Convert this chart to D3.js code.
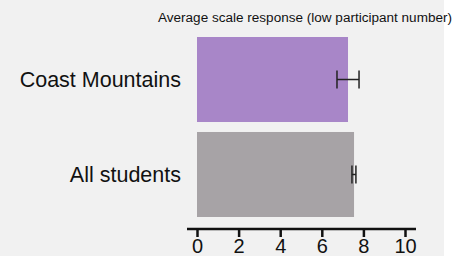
<html>
  <head>
    <style>
      body { margin: 0; background: #fff; }
      text { font-family: "Liberation Sans", Arial, sans-serif; fill: #111; }
    </style>
  </head>
  <body>
    <script src="https://d3js.org/d3.v7.min.js"></script>
    <script>
    // data
    var categories = ["Coast Mountains", "All students"];
    var means = [7.26, 7.55];
    var errLow = [6.73, 7.45];
    var errHigh = [7.79, 7.64];
    var barColors = ["#a886c8", "#a7a3a6"];
    var tickValues = [0, 2, 4, 6, 8, 10];
    var title = "Average scale response (low participant number)";

    var width = 456, height = 256;

    var svg = d3.select("body").append("svg")
        .attr("width", width)
        .attr("height", height);

    // light panel
    svg.append("rect").attr("x", 0).attr("y", 0)
        .attr("width", 444).attr("height", height).attr("fill", "#f1f1f1");

    var x = d3.scaleLinear().domain([0, 10]).range([197, 405]);
    var y = d3.scaleBand().domain(categories).range([37, 217]).paddingInner(0.105).paddingOuter(0);

    svg.append("text")
        .attr("x", 158).attr("y", 22)
        .attr("textLength", 294)
        .attr("lengthAdjust", "spacingAndGlyphs")
        .style("font-size", "12px")
        .text(title);

    svg.selectAll("rect.bar").data(categories).enter().append("rect")
        .attr("class", "bar")
        .attr("x", x(0))
        .attr("y", function(d) { return y(d); })
        .attr("width", function(d, i) { return x(means[i]) - x(0); })
        .attr("height", y.bandwidth())
        .attr("fill", function(d, i) { return barColors[i]; });

    // error bars
    var eb = svg.selectAll("g.err").data(categories).enter().append("g")
        .attr("class", "err")
        .attr("stroke", "#222").attr("stroke-width", 1.5);
    eb.append("line")
        .attr("x1", function(d, i) { return x(errLow[i]); })
        .attr("x2", function(d, i) { return x(errHigh[i]); })
        .attr("y1", function(d) { return y(d) + y.bandwidth() / 2; })
        .attr("y2", function(d) { return y(d) + y.bandwidth() / 2; });
    [errLow, errHigh].forEach(function(arr) {
      eb.append("line")
          .attr("x1", function(d, i) { return x(arr[i]); })
          .attr("x2", function(d, i) { return x(arr[i]); })
          .attr("y1", function(d) { return y(d) + y.bandwidth() / 2 - 9; })
          .attr("y2", function(d) { return y(d) + y.bandwidth() / 2 + 9; });
    });

    // category labels
    svg.selectAll("text.cat").data(categories).enter().append("text")
        .attr("class", "cat")
        .attr("x", 181)
        .attr("y", function(d) { return y(d) + y.bandwidth() / 2; })
        .attr("dy", "0.36em")
        .attr("text-anchor", "end")
        .style("font-size", "21.5px")
        .text(function(d) { return d; });

    // x axis
    var axis = svg.append("g")
        .attr("transform", "translate(0,229)")
        .call(d3.axisBottom(x).tickValues(tickValues).tickSize(8).tickPadding(2).tickSizeOuter(0));
    axis.select(".domain").attr("stroke", "#111").attr("stroke-width", 2.5)
        .attr("d", "M187,0H416");
    axis.selectAll(".tick line").attr("stroke", "#111").attr("stroke-width", 2.5);
    axis.selectAll(".tick text").style("font-size", "20px").style("font-family", "Liberation Sans, Arial, sans-serif").attr("fill", "#111");
    </script>
  </body>
</html>
